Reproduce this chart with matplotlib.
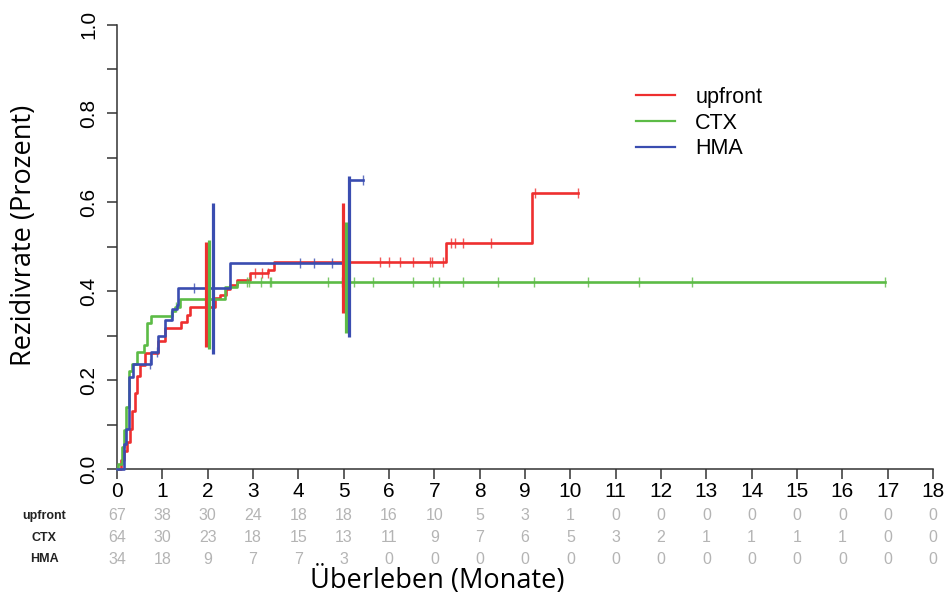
import numpy as np
import matplotlib
matplotlib.use("Agg")
import matplotlib.pyplot as plt
from matplotlib.transforms import blended_transform_factory

# ---------------- data ----------------
groups = ["upfront", "CTX", "HMA"]
colors = ["#ee2f2f", "#5cbb46", "#3a4db0"]

upfront_t = [0, 0.08, 0.15, 0.22, 0.28, 0.33, 0.40, 0.45, 0.50, 0.62, 0.90, 1.05, 1.42, 1.54, 1.62,
             2.16, 2.27, 2.40, 2.50, 2.64, 2.94, 3.33, 3.47, 7.26, 9.15]
upfront_y = [0, 0.02, 0.04, 0.06, 0.09, 0.13, 0.17, 0.21, 0.234, 0.26, 0.288, 0.317, 0.331, 0.346, 0.365,
             0.384, 0.391, 0.405, 0.414, 0.425, 0.44, 0.448, 0.465, 0.508, 0.62]
upfront_end = 10.16
upfront_cens = [3.05, 3.19, 3.32, 5.80, 6.00, 6.25, 6.53, 6.91, 6.95, 7.20, 7.37, 7.46, 7.63, 8.25, 9.21, 10.16]

ctx_t = [0, 0.03, 0.10, 0.16, 0.20, 0.27, 0.34, 0.45, 0.60, 0.66, 0.76, 1.21, 1.28, 1.39, 2.38, 2.64]
ctx_y = [0, 0.011, 0.05, 0.087, 0.14, 0.22, 0.237, 0.264, 0.28, 0.328, 0.345, 0.355, 0.365, 0.383, 0.41, 0.42]
ctx_end = 16.94
ctx_cens = [1.20, 1.31, 2.86, 2.92, 3.17, 3.37, 3.40, 4.66, 4.97, 5.22, 5.64, 6.53, 6.98, 7.11, 7.64,
            8.40, 9.20, 10.40, 11.52, 12.69, 16.94]

hma_t = [0, 0.15, 0.20, 0.27, 0.35, 0.75, 0.91, 1.06, 1.21, 1.32, 1.35, 2.49, 5.12]
hma_y = [0, 0.057, 0.09, 0.207, 0.237, 0.264, 0.30, 0.335, 0.36, 0.37, 0.408, 0.463, 0.65]
hma_end = 5.42
hma_cens = [0.73, 0.88, 1.69, 4.04, 4.35, 4.75, 5.42]

# confidence bars: time, lower, upper
ci_upfront = [(1.97, 0.275, 0.511), (4.98, 0.351, 0.598)]
ci_ctx = [(2.04, 0.271, 0.515), (5.05, 0.306, 0.556)]
ci_hma = [(2.11, 0.259, 0.599), (5.12, 0.298, 0.660)]

risk_times = list(range(0, 19))
risk_upfront = [67, 38, 30, 24, 18, 18, 16, 10, 5, 3, 1, 0, 0, 0, 0, 0, 0, 0, 0]
risk_ctx = [64, 30, 23, 18, 15, 13, 11, 9, 7, 6, 5, 3, 2, 1, 1, 1, 1, 0, 0]
risk_hma = [34, 18, 9, 7, 7, 3, 0, 0, 0, 0, 0, 0, 0, 0, 0, 0, 0, 0, 0]

# ---------------- figure ----------------
W, H = 947, 603
fig = plt.figure(figsize=(W / 100, H / 100), dpi=100)
x0, x1, y0, y1 = 117, 933, 469, 24.5
ax = fig.add_axes([x0 / W, 1 - y0 / H, (x1 - x0) / W, (y0 - y1) / H])
ax.set_xlim(0, 18)
ax.set_ylim(0, 1)

series = [
    (upfront_t, upfront_y, upfront_end, upfront_cens, ci_upfront),
    (ctx_t, ctx_y, ctx_end, ctx_cens, ci_ctx),
    (hma_t, hma_y, hma_end, hma_cens, ci_hma),
]

for (t, y, end, cens, ci), name, col in zip(series, groups, colors):
    tt = list(t) + [end]
    yy = list(y) + [y[-1]]
    ax.step(tt, yy, where="post", color=col, lw=1.9, label=name, clip_on=False, zorder=3)
    ct = np.array(cens)
    idx = np.searchsorted(np.array(t), ct, side="right") - 1
    cy = np.array(y)[idx]
    ax.plot(ct, cy, ls="none", marker="|", ms=7, mew=1.0, color=col, alpha=0.8, zorder=3)
    for (ti, lo, hi) in ci:
        ax.vlines(ti, lo, hi, color=col, lw=2.3, zorder=4)

for s in ["top", "right"]:
    ax.spines[s].set_visible(False)
for s in ["left", "bottom"]:
    ax.spines[s].set_linewidth(1.1)
    ax.spines[s].set_color("#333333")

ax.set_xticks(risk_times)
ax.set_xticklabels([str(v) for v in risk_times], fontsize=15, family="Liberation Sans")
yt = [round(0.1 * i, 1) for i in range(11)]
ax.set_yticks(yt)
ax.set_yticklabels([f"{v:.1f}" if i % 2 == 0 else "" for i, v in enumerate(yt)],
                   fontsize=15, family="Liberation Sans", rotation=90, va="center")
ax.tick_params(axis="both", direction="out", length=7.5, width=1.1, color="#333333")
ax.tick_params(axis="x", pad=2)
ax.tick_params(axis="y", pad=6)

fig.text(24 / W, 1 - 235 / H, "Rezidivrate (Prozent)", fontsize=19.5, family="Open Sans",
         rotation=90, ha="center", va="center")
fig.text(437 / W, 1 - 580 / H, "Überleben (Monate)", fontsize=19.5, family="Open Sans",
         ha="center", va="center")

# risk table
tr = blended_transform_factory(ax.transData, fig.transFigure)
rows = [(risk_upfront, 516), (risk_ctx, 538), (risk_hma, 559)]
for (vals, ypx), name in zip(rows, groups):
    yf = 1 - ypx / H
    fig.text(44 / W, yf, name, fontsize=9, fontweight="bold", family="Liberation Sans",
             ha="center", va="center", color="#222222")
    for tval, v in zip(risk_times, vals):
        ax.text(tval, yf, str(v), transform=tr, fontsize=11.5, family="Liberation Sans",
                color="#b4b4b4", ha="center", va="center", clip_on=False)

leg = ax.legend(loc="upper left", bbox_to_anchor=((636 - x0) / (x1 - x0), (y0 - 87) / (y0 - y1)),
                frameon=False, handlelength=1.8, handletextpad=0.95,
                labelspacing=0.22, borderpad=0, borderaxespad=0,
                prop={"family": "Liberation Sans", "size": 15.5})
for h in leg.get_lines():
    h.set_linewidth(1.6)

fig.savefig("out.png", dpi=100)
